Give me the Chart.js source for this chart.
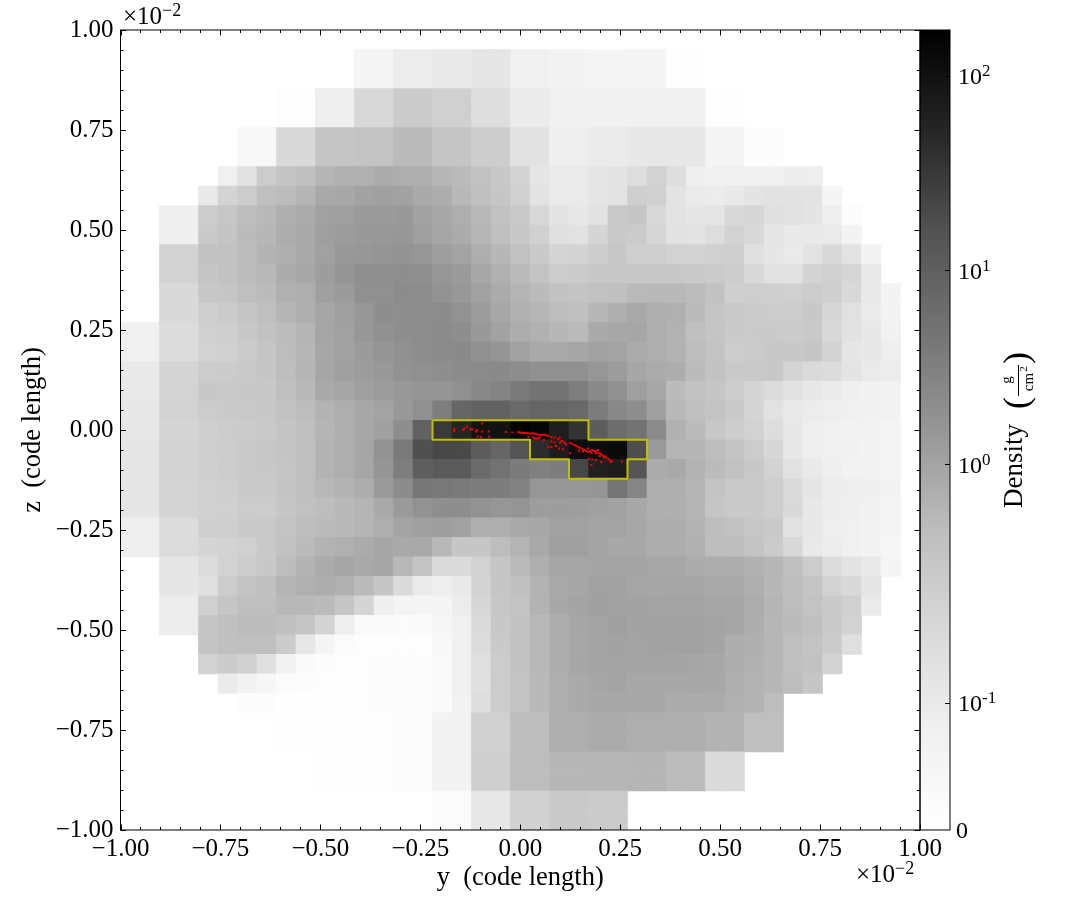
<!DOCTYPE html>
<html>
<head>
<meta charset="utf-8">
<title>Density projection</title>
<script src="https://cdn.jsdelivr.net/npm/chart.js@4/dist/chart.umd.min.js"></script>
<style>
body { margin: 0; background: #fff; }
canvas { display: block; }
</style>
</head>
<body>
<canvas id="densityChart" width="1085" height="920"></canvas>
<script>
// projected density (g/cm^2), one row per cell row, top to bottom, 0 = empty
const row00 = [0,0,0,0,0,0,0,0,0,0,0,0,0,0,0,0,0,0,0,0,0,0,0,0,0,0,0,0,0,0,0,0,0,0,0,0,0,0,0,0,0];
const row01 = [0,0,0,0,0,0,0,0,0,0,0,0,.052,.052,.093,.093,.103,.103,.113,.113,.079,.079,.063,.063,.058,.058,.052,.052,.005,.005,0,0,0,0,0,0,0,0,0,0,0];
const row02 = row01;
const row03 = [0,0,0,0,0,0,0,0,.01,.01,.082,.082,.16,.16,.255,.255,.205,.205,.14,.14,.096,.096,.079,.079,.073,.073,.079,.079,.079,.079,.01,.01,0,0,0,0,0,0,0,0,0];
const row04 = row03;
const row05 = [0,0,0,0,0,0,.037,.037,.157,.157,.33,.33,.356,.356,.505,.505,.33,.33,.235,.235,.127,.127,.086,.086,.1,.1,.11,.11,.11,.11,.058,.058,.016,.016,0,0,0,0,0,0,0];
const row06 = row05;
const row07 = [0,0,0,0,0,.079,.127,.245,.34,.406,.585,.68,.68,.8,.73,.73,.55,.49,.37,.289,.189,.115,.1,.1,.115,.123,.143,.189,.143,.086,.079,.079,.079,.073,.089,.086,0,0,0,0,0];
const row08 = [0,0,0,0,.103,.173,.245,.425,.473,.585,.845,.867,1.05,1.11,1.05,.82,.75,.535,.406,.315,.205,.123,.1,.1,.115,.123,.215,.205,.123,.1,.093,.103,.12,.127,.127,.123,.052,0,0,0,0];
const row09 = [0,0,.082,.082,.245,.3,.443,.52,.705,.8,1.08,1.13,1.29,1.29,1.37,1.08,.867,.73,.535,.39,.277,.16,.12,.106,.127,.277,.315,.157,.123,.113,.115,.157,.166,.133,.13,.12,.086,.016,0,0,0];
const row10 = [0,0,.082,.082,.265,.34,.49,.55,.75,.845,1.13,1.25,1.37,1.42,1.46,1.13,.95,.8,.566,.425,.289,.205,.137,.127,.169,.277,.255,.166,.127,.123,.143,.189,.157,.115,.103,.103,.1,.063,0,0,0];
const row11 = [0,0,.189,.189,.37,.37,.473,.62,.705,.845,1.08,1.42,1.46,1.6,1.66,1.5,1.17,1.01,.73,.55,.39,.265,.169,.18,.235,.3,.215,.215,.189,.18,.205,.215,.133,.113,.1,.123,.16,.123,.063,0,0];
const row12 = [0,0,.189,.189,.315,.37,.473,.535,.775,.89,1.21,1.55,1.91,1.91,1.98,1.91,1.5,1.29,.89,.68,.505,.356,.245,.255,.289,.3,.289,.289,.289,.265,.255,.235,.157,.13,.127,.18,.205,.166,.103,0,0];
const row13 = [0,0,.157,.157,.289,.315,.425,.49,.68,.73,1.11,1.29,1.85,1.85,2.11,2.05,1.72,1.42,1.08,.8,.605,.49,.37,.34,.37,.406,.505,.52,.52,.473,.37,.215,.225,.215,.205,.245,.215,.16,.103,.063,0];
const row14 = [0,0,.157,.157,.225,.255,.33,.425,.585,.73,.92,1.13,1.46,1.98,1.98,2.05,2.11,1.72,1.25,.89,.68,.566,.46,.406,.55,.705,.845,.73,.68,.49,.33,.277,.255,.245,.245,.289,.166,.13,.1,.063,0];
const row15 = [.079,.079,.147,.147,.205,.225,.289,.37,.473,.585,.95,1.08,1.46,1.78,1.98,2.05,2.18,1.98,1.37,1.05,.75,.66,.55,.505,.82,.89,.92,.73,.64,.406,.33,.265,.265,.265,.255,.277,.16,.127,.106,.073,0];
const row16 = [.079,.079,.147,.147,.189,.205,.255,.33,.46,.566,.89,1.05,1.29,1.55,1.78,2.05,2.18,2.26,1.85,1.55,1.08,.845,.845,.92,1.08,1.01,.8,.73,.64,.46,.356,.245,.255,.289,.289,.315,.189,.113,.106,.086,0];
const row17 = [.103,.103,.173,.173,.245,.255,.277,.315,.443,.585,.92,1.11,1.25,1.37,1.72,1.85,1.98,2.11,2.18,2.26,2.05,1.85,1.85,1.85,1.5,1.25,.92,.8,.75,.49,.37,.277,.277,.289,.173,.153,.147,.12,.1,.093,0];
const row18 = [.103,.103,.173,.173,.289,.277,.289,.289,.406,.52,.845,.92,1.11,1.25,1.42,1.55,1.55,1.85,2.4,2.76,3.85,4.91,4.91,3.35,2.26,1.78,1.13,.89,.49,.37,.315,.245,.169,.147,.127,.106,.096,.082,.073,.068,0];
const row19 = [.11,.11,.18,.18,.245,.265,.277,.289,.37,.46,.62,.73,.867,1.01,1.37,1.85,3.35,7.7,9.2,9.2,6.8,8,8,7.04,3.6,2.4,1.98,1.11,.535,.425,.356,.277,.169,.127,.103,.093,.086,.079,.073,.068,0];
const row20 = [.11,.11,.169,.169,.215,.245,.255,.277,.34,.425,.585,.73,.867,1.11,1.98,9.2,30,52,96,96,172,142,66,35,11,6,4.9,2.18,.66,.49,.3,.235,.189,.143,.106,.086,.079,.068,.068,.058,0];
const row21 = [.115,.115,.18,.18,.225,.245,.277,.3,.34,.425,.62,.73,.92,1.66,3.85,17,21,20.5,11.2,7.7,15,44,68,113,117,124,18,1.33,.585,.585,.46,.356,.245,.163,.106,.086,.079,.073,.063,.052,0];
const row22 = [.115,.115,.18,.18,.215,.245,.277,.289,.33,.425,.62,.73,.92,1.55,3.35,10,12,12,6.5,5.1,3.72,3.15,3.49,21.5,60,68,14.5,.8,.845,.62,.49,.39,.289,.189,.127,.103,.082,.068,.068,.058,0];
const row23 = [.113,.113,.173,.173,.205,.225,.265,.265,.34,.425,.535,.62,.75,1.33,2.11,4.3,4.14,3.85,3.6,3.49,2.94,1.5,1.5,1.5,1.55,4.75,2.67,.73,.73,.585,.34,.277,.277,.225,.153,.115,.093,.086,.082,.063,0];
const row24 = [.113,.113,.173,.173,.197,.205,.245,.245,.315,.39,.46,.52,.605,.82,1.33,1.72,1.98,1.98,1.72,1.5,1.6,1.21,1.21,1.17,1.11,1.05,.867,.705,.705,.605,.33,.277,.277,.225,.157,.106,.089,.082,.073,.058,0];
const row25 = [.082,.082,.147,.147,.215,.225,.265,.277,.356,.443,.49,.52,.585,.73,.98,1.11,1.17,1.05,.73,.73,.845,.867,1.08,1.08,1.01,1.01,.89,.75,.75,.62,.443,.39,.3,.277,.13,.106,.086,.079,.068,.052,0];
const row26 = [.082,.082,.147,.147,.169,.18,.205,.277,.37,.49,.62,.68,.8,.92,.845,.845,.535,.315,.315,.46,.605,.845,1.13,1.13,1.01,.867,.867,.75,.75,.66,.46,.443,.356,.255,.16,.103,.089,.079,.063,.047,0];
const row27 = [0,0,.113,.113,.147,.18,.235,.289,.46,.62,.8,.92,.845,.92,.535,.34,.153,.153,.189,.315,.505,.705,.92,.95,.98,.98,.98,.89,.89,.775,.75,.75,.66,.566,.406,.245,.15,.123,.103,.052,0];
const row28 = [0,0,.113,.113,.133,.235,.356,.406,.585,.68,.75,.68,.49,.315,.153,.1,.086,.103,.18,.315,.406,.62,.845,.92,1.08,1.08,.95,.92,.95,.92,.82,.82,.705,.55,.46,.33,.189,.157,.115,0,0];
const row29 = [0,0,.093,.093,.205,.315,.425,.425,.535,.52,.49,.33,.169,.082,.058,.052,.058,.093,.163,.3,.356,.62,.867,.98,1.11,1.05,1.05,.98,1.01,1.01,.92,.92,.75,.585,.46,.356,.265,.205,.1,0,0];
const row30 = [0,0,.093,.093,.315,.406,.473,.473,.406,.315,.18,.086,.032,.026,.02,.026,.047,.079,.153,.289,.37,.52,.75,.92,1.01,1.13,1.05,1.05,1.05,1.05,1.01,.95,.75,.566,.49,.406,.277,.189,0,0,0];
const row31 = [0,0,0,0,.34,.406,.425,.425,.255,.11,.052,.02,.01,.01,.01,.01,.037,.079,.147,.265,.37,.535,.75,.89,1.01,1.05,1.01,1.05,1.08,1.08,.98,.75,.705,.566,.425,.356,.255,.137,0,0,0];
const row32 = [0,0,0,0,.189,.255,.205,.133,.068,.026,.016,.01,.01,.016,.016,.016,.032,.073,.137,.245,.37,.52,.75,.92,.98,.98,.98,.98,.98,.92,.867,.75,.66,.566,.425,.37,.189,0,0,0,0];
const row33 = [0,0,0,0,0,.096,.068,.047,.02,.016,.01,.01,.01,.016,.02,.02,.032,.073,.133,.245,.356,.52,.705,.82,.92,.98,.867,.867,.867,.89,.89,.705,.64,.55,.46,.315,0,0,0,0,0];
const row34 = [0,0,0,0,0,0,.016,.016,.005,.005,.005,.005,.01,.016,.016,.016,.026,.068,.143,.245,.356,.52,.705,.82,.867,.867,.867,.867,.8,.775,.8,.68,.62,.46,0,0,0,0,0,0,0];
const row35 = [0,0,0,0,0,0,0,0,.005,.005,.005,.005,.01,.01,.02,.02,.063,.063,.205,.205,.443,.443,.705,.705,.8,.8,.73,.73,.705,.705,.62,.62,.425,.425,0,0,0,0,0,0,0];
const row36 = row35;
const row37 = [0,0,0,0,0,0,0,0,0,0,.005,.005,.01,.01,.02,.02,.063,.063,.215,.215,.46,.46,.55,.55,.566,.566,.585,.585,.473,.473,.153,.153,0,0,0,0,0,0,0,0,0];
const row38 = row37;
const row39 = [0,0,0,0,0,0,0,0,0,0,0,0,0,0,0,0,.02,.02,.11,.11,.197,.197,.277,.277,.255,.255,0,0,0,0,0,0,0,0,0,0,0,0,0,0,0];
const row40 = row39;
const densityRows = [row00,row01,row02,row03,row04,row05,row06,row07,row08,row09,row10,row11,row12,row13,row14,row15,row16,row17,row18,row19,row20,row21,row22,row23,row24,row25,row26,row27,row28,row29,row30,row31,row32,row33,row34,row35,row36,row37,row38,row39,row40];

// sink particles, in units of 1e-2 code length
const particleY = [-.165,-.165,-.143,-.14,-.133,-.125,-.12,-.108,-.11,-.095,-.095,-.107,-.098,-.079,-.078,-.036,-.02,-.005,-.001,.004,.009,.014,.019,.024,.03,.035,.04,.045,.05,.055,.06,.065,.07,.032,.036,.04,.045,.049,.02,.059,.078,.086,.078,.086,.095,.099,.103,.107,.112,.114,.1,.09,.097,.107,.07,.078,.125,.13,.136,.14,.145,.15,.155,.16,.165,.17,.175,.18,.185,.19,.195,.2,.205,.21,.215,.22,.224,.17,.178,.189,.195,.124,.172,.18,.189,.203,.178,.226,.23,.255,.157,.147,.199,.209];
const particleZ = [.0025,-.0025,0,.004,.008,.002,.002,0,-.004,.016,-.004,-.016,-.018,-.004,-.017,-.005,-.006,-.005,-.006,-.007,-.0075,-.0075,-.008,-.009,-.008,-.009,-.01,-.012,-.0125,-.012,-.0125,-.013,-.015,-.019,-.021,-.022,-.021,-.019,-.017,-.025,-.018,-.019,-.029,-.031,-.023,-.019,-.027,-.029,-.032,-.036,-.032,-.04,-.046,-.048,-.042,-.043,-.032,-.035,-.0375,-.04,-.0425,-.045,-.0475,-.05,-.052,-.055,-.053,-.05,-.0525,-.054,-.057,-.059,-.062,-.065,-.068,-.072,-.075,-.046,-.057,-.058,-.05,-.058,-.072,-.073,-.075,-.08,-.0875,-.08,-.078,-.079,-.054,-.052,-.065,-.068];

// high density contour
const contourY = [-.2195,.1707,.1707,.3171,.3171,.2683,.2683,.122,.122,.0244,.0244,-.2195,-.2195];
const contourZ = [.0244,.0244,-.0244,-.0244,-.0732,-.0732,-.122,-.122,-.0732,-.0732,-.0244,-.0244,.0244];

const majorTicks = [-1,-.75,-.5,-.25,0,.25,.5,.75,1];
const minorTicks = [-.95,-.9,-.85,-.8,-.7,-.65,-.6,-.55,-.45,-.4,-.35,-.3,-.2,-.15,-.1,-.05,.05,.1,.15,.2,.3,.35,.4,.45,.55,.6,.65,.7,.8,.85,.9,.95];
const colorbarTicks = [0,.1,1,10,100];
const colorbarExponents = [null,'-1','0','1','2'];
const greyStops = [255,240,217,189,150,115,82,37,0];

const serif = '"Liberation Serif", serif';

// symlog norm
function norm(d) {
    if (d < 0.17) return d * 1.588;
    return Math.min(1, 0.457 + 0.243 * Math.log10(d));
}

function greyOf(t) {
    const p = t * (greyStops.length - 1);
    const i = Math.min(Math.floor(p), greyStops.length - 2);
    const g = Math.round(greyStops[i] + (greyStops[i + 1] - greyStops[i]) * (p - i));
    return 'rgb(' + g + ',' + g + ',' + g + ')';
}

function tickText(v) {
    return v.toFixed(2).replace('-', '\u2212');
}

const nCells = densityRows.length;
const cellSize = 2 / nCells;
const cells = [];
densityRows.forEach(function(row, j) {
    row.forEach(function(d, k) {
        if (d > 0) {
            const top = 1 - j * cellSize;
            cells.push({x: -1 + (k + 0.5) * cellSize, y: [top - cellSize, top], d: d});
        }
    });
});

function rotatedText(ctx, text, x, y, font) {
    ctx.save();
    ctx.translate(x, y);
    ctx.rotate(-Math.PI / 2);
    ctx.font = font;
    ctx.textAlign = 'center';
    ctx.textBaseline = 'middle';
    ctx.fillText(text, 0, 0);
    ctx.restore();
}

function offsetText(ctx, x, y) {
    ctx.textAlign = 'left';
    ctx.textBaseline = 'alphabetic';
    ctx.font = '25px ' + serif;
    const s = '\u00d710';
    ctx.fillText(s, x, y);
    const w = ctx.measureText(s).width;
    ctx.font = '18px ' + serif;
    ctx.fillText('\u22122', x + w, y - 8);
}

const framePlugin = {
    id: 'frame',
    afterDatasetsDraw(chart) {
        const ctx = chart.ctx;
        const a = chart.chartArea;
        const xs = chart.scales.x, ys = chart.scales.y, cb = chart.scales.cbar;
        const barLeft = a.right, barRight = a.right + 30;

        ctx.save();
        // colorbar
        const grad = ctx.createLinearGradient(0, cb.getPixelForValue(0), 0, cb.getPixelForValue(1));
        greyStops.forEach(function(g, i) {
            grad.addColorStop(i / (greyStops.length - 1), 'rgb(' + g + ',' + g + ',' + g + ')');
        });
        ctx.fillStyle = grad;
        ctx.fillRect(barLeft, a.top, barRight - barLeft, a.bottom - a.top);

        ctx.strokeStyle = '#000';
        ctx.lineWidth = 1;
        ctx.strokeRect(a.left, a.top, a.right - a.left, a.bottom - a.top);
        ctx.strokeRect(barLeft, a.top, barRight - barLeft, a.bottom - a.top);

        function tick(x0, y0, x1, y1) {
            ctx.beginPath();
            ctx.moveTo(x0, y0);
            ctx.lineTo(x1, y1);
            ctx.stroke();
        }
        function axisTicks(values, len) {
            values.forEach(function(v) {
                const px = Math.round(xs.getPixelForValue(v)) + 0.5;
                const py = Math.round(ys.getPixelForValue(v)) + 0.5;
                tick(px, a.bottom, px, a.bottom - len);
                tick(px, a.top, px, a.top + len);
                tick(a.left, py, a.left + len, py);
                tick(a.right, py, a.right - len, py);
            });
        }
        axisTicks(majorTicks, 5.5);
        axisTicks(minorTicks, 3);

        // colorbar ticks and labels
        ctx.fillStyle = '#000';
        ctx.textAlign = 'left';
        ctx.textBaseline = 'alphabetic';
        colorbarTicks.forEach(function(v, i) {
            const py = cb.getPixelForValue(norm(v));
            if (v > 0) tick(barRight, Math.round(py) + 0.5, barRight - 5, Math.round(py) + 0.5);
            ctx.font = '24px ' + serif;
            if (v === 0) {
                ctx.fillText('0', barRight + 6, py + 8);
            } else {
                ctx.fillText('10', barRight + 8, py + 8.5);
                ctx.font = '17px ' + serif;
                ctx.fillText(colorbarExponents[i], barRight + 32, py + 0.5);
            }
        });

        // colorbar label
        rotatedText(ctx, 'Density', 1015, 466, '27px ' + serif);
        rotatedText(ctx, '(', 1019, 403, '36px ' + serif);
        rotatedText(ctx, ')', 1019, 358, '36px ' + serif);
        rotatedText(ctx, 'g', 1007, 380, '15px ' + serif);
        rotatedText(ctx, 'cm', 1029, 382, '15px ' + serif);
        rotatedText(ctx, '2', 1024, 369, '11px ' + serif);
        ctx.fillRect(1018, 365, 1, 31);

        // offset labels
        offsetText(ctx, 123, 24);
        offsetText(ctx, 856, 882);
        ctx.restore();
    }
};

new Chart(document.getElementById('densityChart').getContext('2d'), {
    type: 'bar',
    data: {
        datasets: [
            {
                type: 'scatter',
                data: particleY.map(function(y, i) { return {x: y, y: particleZ[i]}; }),
                pointStyle: 'rect',
                pointRadius: 1.4,
                pointBorderWidth: 0,
                backgroundColor: '#ff0000',
                order: 1
            },
            {
                type: 'scatter',
                data: contourY.map(function(y, i) { return {x: y, y: contourZ[i]}; }),
                showLine: true,
                pointRadius: 0,
                borderColor: '#bfbf00',
                borderWidth: 2,
                borderJoinStyle: 'round',
                order: 2
            },
            {
                type: 'bar',
                data: cells,
                grouped: false,
                barPercentage: 1,
                categoryPercentage: 1,
                borderWidth: 0,
                backgroundColor: function(c) {
                    return c.raw ? greyOf(norm(c.raw.d)) : '#fff';
                },
                order: 3
            }
        ]
    },
    plugins: [framePlugin],
    options: {
        responsive: false,
        animation: false,
        devicePixelRatio: 1,
        layout: {padding: {top: 30}},
        plugins: {legend: {display: false}, tooltip: {enabled: false}},
        scales: {
            x: {
                type: 'linear',
                position: 'bottom',
                min: -1,
                max: 1,
                offset: false,
                grid: {display: false, offset: false, drawTicks: false},
                border: {display: false},
                ticks: {
                    stepSize: 0.25,
                    autoSkip: false,
                    maxRotation: 0,
                    padding: 4,
                    color: '#000',
                    font: {family: serif, size: 25},
                    callback: tickText
                },
                title: {
                    display: true,
                    text: 'y  (code length)',
                    color: '#000',
                    font: {family: serif, size: 26.5},
                    padding: {top: 0, bottom: 26}
                },
                afterFit: function(scale) { scale.height = 90; }
            },
            y: {
                type: 'linear',
                position: 'left',
                min: -1,
                max: 1,
                grid: {display: false, drawTicks: false},
                border: {display: false},
                ticks: {
                    stepSize: 0.25,
                    autoSkip: false,
                    padding: 7,
                    color: '#000',
                    font: {family: serif, size: 25},
                    callback: tickText
                },
                title: {
                    display: true,
                    text: 'z  (code length)',
                    color: '#000',
                    font: {family: serif, size: 26.5},
                    padding: {top: 17, bottom: 0}
                },
                afterFit: function(scale) { scale.width = 120.5; }
            },
            cbar: {
                type: 'linear',
                axis: 'y',
                position: 'right',
                min: 0,
                max: 1,
                grid: {display: false, drawTicks: false},
                border: {display: false},
                ticks: {display: false},
                afterFit: function(scale) { scale.width = 165; }
            }
        }
    }
});
</script>
</body>
</html>
